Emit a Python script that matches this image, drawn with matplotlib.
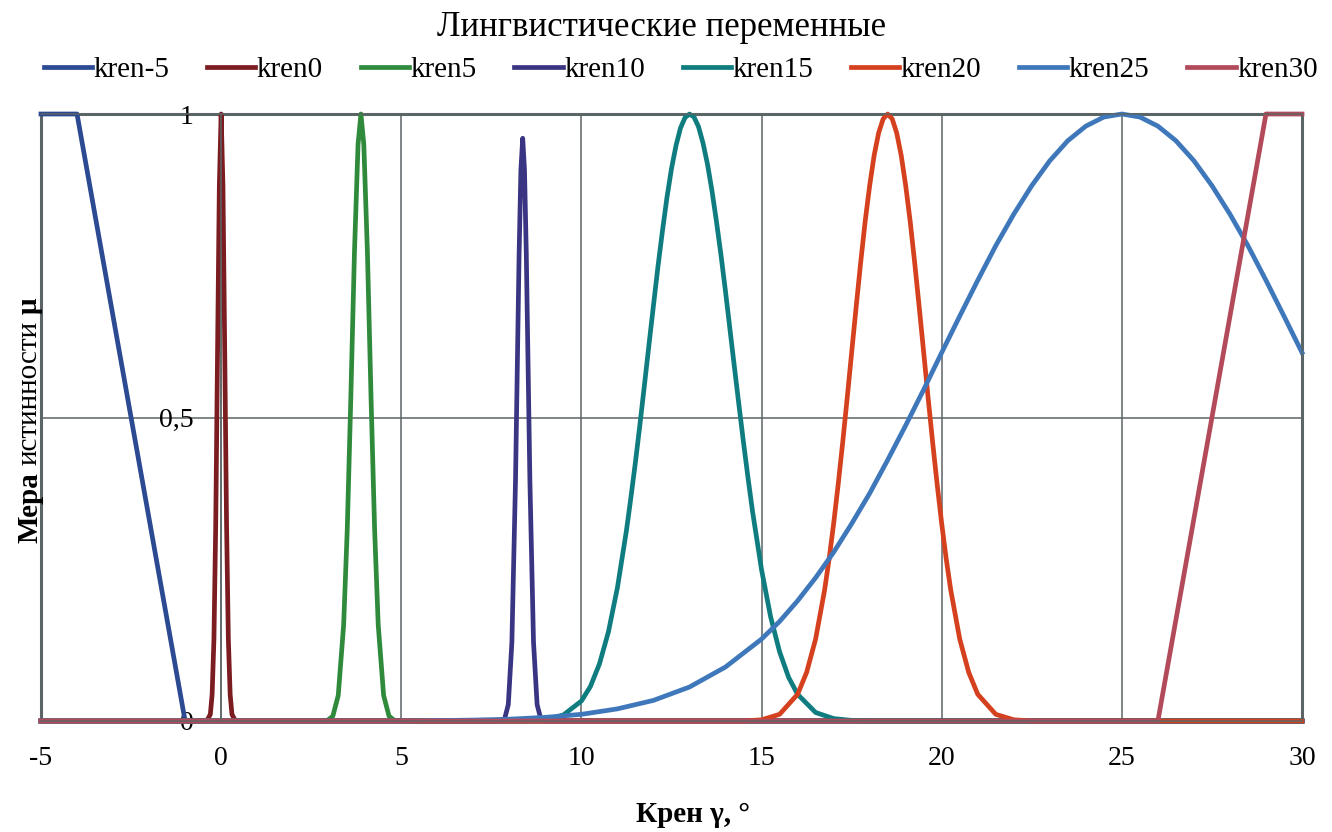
import matplotlib
matplotlib.use("Agg")
import matplotlib.pyplot as plt

plt.rcParams['font.family'] = ['Liberation Serif', 'DejaVu Serif']

# ---- data ----
title = "Лингвистические переменные"
x_label = "Крен γ, °"
y_label_parts = [("Мера", "bold"), ("истинности", "normal"), ("μ", "bold")]

x_ticks = [-5, 0, 5, 10, 15, 20, 25, 30]
y_ticks = [0, 0.5, 1]
y_tick_labels = ['0', '0,5', '1']

names = ['kren-5', 'kren0', 'kren5', 'kren10', 'kren15', 'kren20', 'kren25', 'kren30']
colors = ['#2b4a92', '#7b1c20', '#2f8a3c', '#3a3582', '#0f7c80', '#d5411e', '#3f78ba', '#b24a5a']

kren_m5_x = [-5, -4, -1, 30]
kren_m5_y = [1, 1, 0, 0]

kren0_x = [-5, -0.4, -0.3, -0.25, -0.2, -0.15, -0.1, -0.05, 0, 0.05, 0.1, 0.15, 0.2, 0.25, 0.3, 0.4, 30]
kren0_y = [0, 0, 0.011, 0.044, 0.135, 0.325, 0.607, 0.882, 1, 0.882, 0.607, 0.325, 0.135, 0.044, 0.011, 0, 0]

kren5_x = [-5, 2.8, 2.95, 3.1, 3.25, 3.4, 3.5, 3.6, 3.7, 3.8, 3.88, 3.96, 4.06, 4.16, 4.26, 4.36, 4.51, 4.66, 4.81, 4.95, 30]
kren5_y = [0, 0, 0.001, 0.008, 0.042, 0.158, 0.315, 0.534, 0.772, 0.95, 1, 0.95, 0.772, 0.534, 0.315, 0.158, 0.042, 0.008, 0.001, 0, 0]

kren10_x = [-5, 7.77, 7.87, 7.97, 8.07, 8.17, 8.22, 8.27, 8.32, 8.37, 8.42, 8.47, 8.52, 8.57, 8.67, 8.77, 8.87, 8.97, 30]
kren10_y = [0, 0, 0.004, 0.027, 0.130, 0.395, 0.582, 0.769, 0.908, 0.96, 0.908, 0.769, 0.582, 0.395, 0.130, 0.027, 0.004, 0, 0]

kren15_x = [-5, 8.5, 9.0, 9.5, 10.0, 10.25, 10.5, 10.75, 11.0, 11.25, 11.375, 11.5, 11.625, 11.75, 11.875,
            12.0, 12.125, 12.25, 12.375, 12.5, 12.625, 12.75, 12.875, 13.0, 13.125, 13.25, 13.375, 13.5,
            13.625, 13.75, 13.875, 14.0, 14.125, 14.25, 14.375, 14.5, 14.625, 14.75, 15.0, 15.25, 15.5,
            15.75, 16.0, 16.5, 17.0, 17.5, 18.0, 30]
kren15_y = [0, 0, 0.002, 0.010, 0.033, 0.057, 0.094, 0.147, 0.220, 0.314, 0.369, 0.427, 0.489, 0.554, 0.620,
            0.685, 0.749, 0.808, 0.863, 0.910, 0.948, 0.977, 0.994, 1.0, 0.995, 0.979, 0.952, 0.917,
            0.873, 0.822, 0.767, 0.707, 0.644, 0.581, 0.519, 0.458, 0.400, 0.345, 0.249, 0.172, 0.114,
            0.072, 0.044, 0.014, 0.004, 0.001, 0, 0]

kren20_x = [-5, 14.5, 15.0, 15.5, 16.0, 16.25, 16.5, 16.75, 16.875, 17.0, 17.125, 17.25, 17.375, 17.5,
            17.625, 17.75, 17.875, 18.0, 18.125, 18.25, 18.375, 18.5, 18.625, 18.75, 18.875, 19.0, 19.125,
            19.25, 19.375, 19.5, 19.625, 19.75, 19.875, 20.0, 20.125, 20.25, 20.5, 20.75, 21.0, 21.5,
            22.0, 22.5, 30]
kren20_y = [0, 0, 0.002, 0.011, 0.044, 0.080, 0.135, 0.216, 0.267, 0.325, 0.389, 0.458, 0.531, 0.607,
            0.682, 0.755, 0.823, 0.882, 0.932, 0.969, 0.992, 1.0, 0.992, 0.969, 0.932, 0.882, 0.823,
            0.755, 0.682, 0.607, 0.531, 0.458, 0.389, 0.325, 0.267, 0.216, 0.135, 0.080, 0.044, 0.011,
            0.002, 0, 0]

kren25_x = [-5, 5, 7, 8, 9, 10, 11, 12, 13, 14, 15, 15.5, 16, 16.5, 17, 17.5, 18, 18.5, 19, 19.5, 20, 20.5,
            21, 21.5, 22, 22.5, 23, 23.5, 24, 24.5, 25, 25.5, 26, 26.5, 27, 27.5, 28, 28.5, 29, 29.5, 30]
kren25_y = [0, 0, 0.0015, 0.003, 0.006, 0.011, 0.020, 0.034, 0.056, 0.089, 0.135, 0.164, 0.198, 0.236, 0.278, 0.325,
            0.375, 0.430, 0.487, 0.546, 0.607, 0.667, 0.726, 0.783, 0.835, 0.882, 0.923, 0.956, 0.980, 0.995, 1.0,
            0.995, 0.980, 0.956, 0.923, 0.882, 0.835, 0.783, 0.726, 0.667, 0.607]

kren30_x = [-5, 26, 29, 30]
kren30_y = [0, 0, 1, 1]

series = [(kren_m5_x, kren_m5_y), (kren0_x, kren0_y), (kren5_x, kren5_y), (kren10_x, kren10_y),
          (kren15_x, kren15_y), (kren20_x, kren20_y), (kren25_x, kren25_y), (kren30_x, kren30_y)]

# ---- figure ----
W, H = 1332, 832
fig = plt.figure(figsize=(W / 100, H / 100), dpi=100)
ax = fig.add_axes([41 / W, 111 / H, 1261 / W, 607 / H])

grid_col = '#5c6566'
for (xs, ys), name, c in zip(series, names, colors):
    ax.plot(xs, ys, color=c, lw=3.4, label=name, clip_on=False, solid_joinstyle='round')

ax.set_xlim(-5, 30)
ax.set_ylim(0, 1)
ax.set_xticks(x_ticks)
ax.set_xticklabels([str(v) for v in x_ticks])
ax.set_yticks(y_ticks)
ax.set_yticklabels(y_tick_labels)
ax.tick_params(length=0, labelsize=20)
ax.tick_params(axis='y', pad=20)
ax.tick_params(axis='x', pad=18)
ax.grid(True, color=grid_col, lw=1.1)
ax.set_axisbelow(True)

ax.spines['left'].set_position(('data', 0))
for s in ax.spines.values():
    s.set_color(grid_col)
    s.set_linewidth(1.1)
ax.patch.set_edgecolor(grid_col)
ax.patch.set_linewidth(2.2)

ax.set_xlabel(x_label, fontsize=21, fontweight='bold', va='center')
ax.xaxis.set_label_coords((693 - 41) / 1261, (721 - 814) / 607)

fig.text(0.497, 1 - 28 / H, title, ha='center', va='center', fontsize=25)

fig.legend(ncol=8, loc='center', bbox_to_anchor=(0.511, 1 - 70 / H), frameon=False,
           fontsize=21, handlelength=1.65, handletextpad=0.05, columnspacing=1.3)

# y label built from bold / regular pieces
renderer = fig.canvas.get_renderer()
parts = []
for s, w in y_label_parts:
    t = fig.text(37 / W, 0.5, s, rotation=90, rotation_mode='anchor', ha='left', va='baseline',
                 fontsize=21, fontweight=w)
    parts.append(t)
lengths = [t.get_window_extent(renderer).height for t in parts]
gap = 7
total = sum(lengths) + gap * (len(parts) - 1)
ypos = (H - 420) - total / 2
for t, L in zip(parts, lengths):
    t.set_position((37 / W, ypos / H))
    ypos += L + gap

fig.savefig('out.png', dpi=100)
